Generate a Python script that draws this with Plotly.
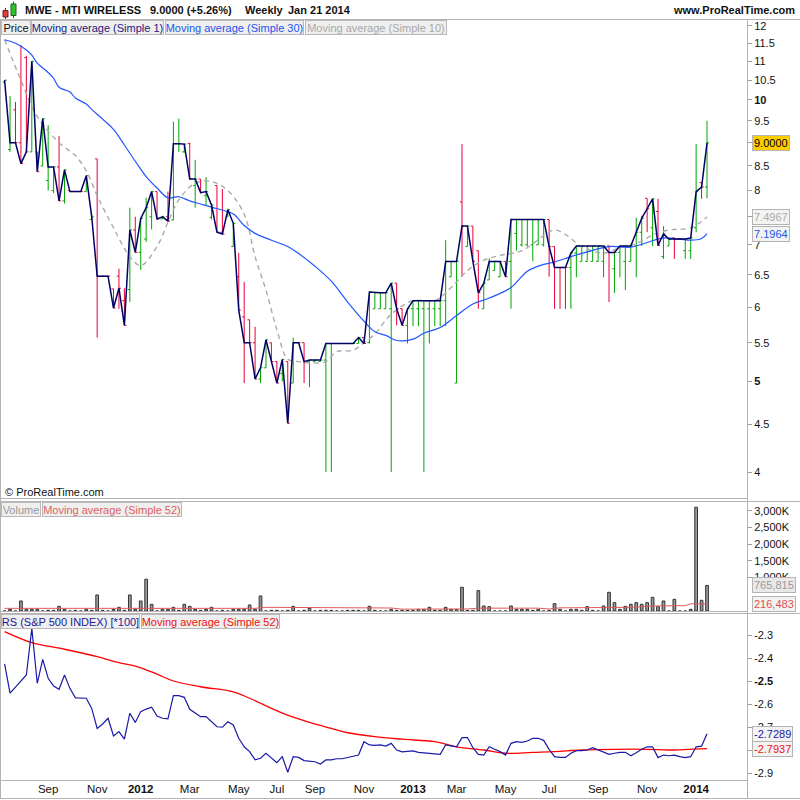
import math
import pandas as pd
import plotly.graph_objects as go

# ---------------- categories (weekly bars) ----------------
weeks_all = pd.date_range("2011-07-11", "2014-01-20", freq="W-MON")
missing_weeks = ["2012-06-04", "2012-07-23", "2012-08-13"]
weeks = [d.strftime("%Y-%m-%d") for d in weeks_all if d.strftime("%Y-%m-%d") not in missing_weeks]
bar = list(range(len(weeks)))

tick_dates = ["2011-09-05", "2011-11-07", "2012-01-02", "2012-03-05", "2012-05-07", "2012-07-02",
              "2012-09-03", "2012-11-05", "2013-01-07", "2013-03-04", "2013-05-06", "2013-07-01",
              "2013-09-02", "2013-11-04", "2014-01-06"]
tick_labels = ["Sep", "Nov", "<b>2012</b>", "Mar", "May", "Jul", "Sep", "Nov", "<b>2013</b>",
               "Mar", "May", "Jul", "Sep", "Nov", "<b>2014</b>"]

# ---------------- price OHLC ----------------
open_ = [10.45, 8.85, 9.76, 9.0, 11.1, 8.8, 8.8, 8.5, 8.2, 8.0,
         8.48, 7.8, 8.0, 7.98, 7.98, 7.98, 7.45, 8.65, 6.48, 6.48,
         6.28, 6.48, 6.1, 6.27, 7.26, 6.87, 7.1, 7.5, 7.98, 7.46,
         7.5, 7.44, 8.98, 8.8, 8.98, 8.1, 8.23, 7.9, 7.49, 8.1,
         7.22, 7.5, 6.97, 6.47, 5.86, 5.82, 5.5, 5.03, 5.17, 5.5,
         5.25, 5.1, 5.25, 4.98, 5.5, 5.5, 5.25, 5.25, 5.25, 5.27,
         5.49, 5.49, 5.49, 5.49, 5.49, 5.49, 5.57, 5.5, 5.98, 5.98,
         5.98, 5.98, 6.37, 5.98, 5.74, 5.98, 5.98, 5.98, 5.98, 5.98,
         5.98, 6.1, 6.47, 4.98, 7.78, 6.97, 7.33, 6.9, 5.98, 6.42,
         6.57, 6.47, 6.72, 6.72, 7.2, 7.0, 7.0, 7.0, 7.0, 7.0,
         7.45, 6.97, 6.62, 6.62, 6.62, 6.86, 6.72, 6.72, 6.72, 6.72,
         6.72, 6.98, 6.6, 6.87, 6.72, 6.72, 6.98, 7.22, 7.85, 7.3,
         7.6, 6.8, 6.98, 7.12, 7.1, 6.9, 6.9, 7.3, 8.16, 8.07]
high = [10.5, 10.1, 9.95, 11.45, 11.15, 11.0, 8.8, 9.55, 9.4, 8.48,
        9.15, 8.42, 8.0, 7.98, 7.98, 8.3, 7.55, 8.65, 6.48, 6.48,
        6.28, 6.6, 6.29, 7.67, 7.5, 7.47, 7.86, 7.98, 7.98, 7.52,
        7.98, 9.48, 9.55, 8.98, 9.0, 8.63, 8.23, 8.27, 7.75, 8.1,
        8.03, 7.65, 7.38, 6.86, 6.39, 5.82, 5.72, 5.17, 5.54, 5.5,
        5.25, 5.28, 5.25, 5.57, 5.5, 5.5, 5.27, 5.27, 5.27, 5.49,
        5.49, 5.49, 5.49, 5.49, 5.49, 5.57, 5.57, 6.23, 6.23, 6.22,
        6.22, 6.37, 6.37, 5.98, 5.98, 6.1, 6.1, 6.1, 6.1, 6.1,
        6.1, 7.08, 6.72, 6.72, 8.97, 7.33, 7.33, 6.9, 6.37, 6.77,
        6.72, 6.72, 6.72, 7.45, 7.45, 7.45, 7.45, 7.45, 7.45, 7.45,
        7.45, 6.97, 6.62, 6.62, 6.87, 6.98, 6.98, 6.98, 6.98, 6.98,
        6.98, 6.99, 6.87, 6.98, 6.98, 6.98, 7.48, 7.52, 7.85, 7.84,
        7.84, 7.33, 7.12, 7.12, 7.1, 7.1, 7.12, 8.97, 8.16, 9.5]
low = [10.45, 8.8, 9.0, 8.55, 8.8, 8.8, 8.38, 8.5, 8.0, 7.95,
       7.8, 7.75, 7.98, 7.98, 7.98, 7.98, 7.45, 5.57, 6.48, 6.48,
       5.99, 5.98, 5.74, 6.08, 6.87, 6.58, 7.05, 7.27, 7.46, 7.46,
       7.42, 7.44, 8.8, 8.78, 8.23, 7.67, 7.96, 7.72, 7.45, 7.22,
       7.19, 7.5, 6.97, 5.96, 4.98, 5.5, 5.03, 4.98, 5.17, 5.25,
       4.98, 5.0, 4.51, 4.98, 5.5, 4.98, 4.93, 5.25, 5.25, 4.0,
       4.0, 5.49, 5.49, 5.49, 5.49, 5.49, 5.49, 5.49, 5.98, 5.98,
       5.98, 4.0, 5.74, 5.74, 5.49, 5.73, 5.73, 4.0, 5.49, 5.73,
       5.73, 5.73, 6.47, 4.98, 6.47, 6.97, 6.72, 5.98, 5.98, 6.42,
       6.57, 6.47, 6.47, 5.98, 6.9, 6.97, 6.97, 6.72, 7.0, 6.97,
       6.47, 5.98, 5.98, 5.98, 5.98, 6.46, 6.72, 6.72, 6.72, 6.72,
       6.46, 6.08, 6.22, 6.46, 6.26, 6.72, 6.46, 6.98, 7.22, 6.98,
       6.98, 6.76, 6.98, 6.76, 7.1, 6.76, 6.76, 7.22, 7.84, 7.85]
close = [10.5, 9.0, 9.0, 8.55, 8.8, 11.0, 8.38, 9.55, 8.48, 8.48,
         7.8, 8.42, 7.98, 7.98, 7.98, 8.3, 7.5, 6.48, 6.48, 6.48,
         5.99, 6.29, 5.74, 7.26, 6.87, 7.47, 7.67, 7.98, 7.46, 7.5,
         7.42, 8.98, 8.98, 8.97, 8.23, 8.23, 7.96, 7.98, 7.72, 7.22,
         7.19, 7.63, 7.38, 5.96, 5.5, 5.5, 5.03, 5.17, 5.54, 5.25,
         4.98, 5.28, 4.51, 5.5, 5.5, 5.25, 5.27, 5.27, 5.27, 5.49,
         5.49, 5.49, 5.49, 5.49, 5.49, 5.57, 5.49, 6.23, 6.22, 6.22,
         6.22, 6.37, 5.98, 5.74, 5.98, 6.1, 6.1, 6.1, 6.1, 6.1,
         6.1, 6.72, 6.72, 6.72, 7.33, 7.33, 6.72, 6.22, 6.37, 6.72,
         6.72, 6.72, 6.47, 7.45, 7.45, 7.45, 7.45, 7.45, 7.45, 7.45,
         6.97, 6.62, 6.62, 6.62, 6.86, 6.98, 6.98, 6.98, 6.98, 6.98,
         6.98, 6.87, 6.87, 6.98, 6.98, 6.98, 7.22, 7.47, 7.65, 7.84,
         6.99, 7.19, 7.1, 7.1, 7.1, 7.1, 7.12, 7.98, 8.07, 9.0]

# moving averages (bar index, value)
ma30_bar = [0, 2, 4, 5, 6, 8, 9, 10, 12, 13, 15, 16, 18, 20, 22, 24, 26, 28, 30, 32, 34, 36, 38, 42,
            44, 46, 49, 52, 54, 57, 60, 63, 66, 68, 70, 72, 75, 77, 80, 83, 86, 89, 93, 96, 99, 101,
            104, 107, 111, 115, 118, 121, 124, 126, 128, 129]
ma30_val = [11.6, 11.5, 11.31, 11.17, 10.95, 10.7, 10.55, 10.32, 10.2, 10.05, 9.9, 9.77, 9.54, 9.3,
            8.95, 8.6, 8.28, 8.05, 7.86, 7.88, 7.8, 7.74, 7.68, 7.55, 7.34, 7.2, 7.08, 6.97, 6.85,
            6.64, 6.4, 6.08, 5.8, 5.65, 5.6, 5.53, 5.55, 5.63, 5.71, 5.88, 6.05, 6.14, 6.3, 6.56,
            6.67, 6.71, 6.8, 6.88, 6.97, 6.96, 7.04, 7.12, 7.1, 7.08, 7.11, 7.1964]
ma10_bar = [0, 3, 6, 10, 13, 15, 17, 20, 23, 25, 28, 30, 32, 35, 38, 41, 44, 46, 48, 50, 52, 54,
            57, 59, 61, 64, 66, 68, 71, 75, 79, 82, 85, 88, 91, 95, 99, 101, 103, 106, 110, 113,
            116, 119, 122, 126, 129]
ma10_val = [11.6, 10.5, 9.6, 9.0, 8.72, 8.4, 7.9, 7.3, 6.8, 6.65, 6.97, 7.4, 7.82, 8.15, 8.18, 8.0,
            7.55, 6.8, 6.26, 5.68, 5.28, 5.25, 5.23, 5.25, 5.38, 5.4, 5.5, 5.62, 5.9, 6.1, 6.1, 6.3,
            6.57, 6.74, 6.82, 6.9, 7.16, 7.26, 7.18, 6.97, 6.86, 6.95, 7.02, 7.17, 7.26, 7.3, 7.4967]

# ---------------- volume (thousands of shares) ----------------
volume_k = [0, 50, 0, 300, 50, 50, 50, 0, 20, 20,
            140, 50, 0, 20, 0, 50, 20, 480, 20, 0,
            50, 110, 20, 480, 50, 300, 950, 200, 0, 50,
            50, 110, 20, 200, 140, 50, 20, 50, 110, 0,
            20, 0, 50, 50, 50, 180, 50, 450, 0, 20,
            20, 0, 20, 140, 0, 20, 80, 0, 20, 20,
            20, 0, 0, 20, 20, 20, 0, 140, 20, 0,
            0, 50, 20, 20, 20, 20, 50, 50, 110, 20,
            20, 110, 50, 50, 710, 20, 20, 610, 150, 130,
            0, 0, 0, 150, 50, 50, 50, 20, 50, 0,
            20, 220, 50, 0, 50, 50, 20, 130, 20, 0,
            150, 560, 250, 50, 140, 200, 250, 200, 250, 410,
            130, 300, 0, 350, 0, 0, 50, 3105, 320, 765.815]
vol_ma_bar = [0, 20, 46, 48, 60, 62, 66, 68, 71, 73, 85, 87, 98, 100, 102, 115, 119, 125, 126, 129]
vol_ma_k = [80, 80, 80, 110, 110, 90, 90, 110, 90, 55, 60, 85, 85, 60, 95, 110, 150, 160, 215, 216.483]

# ---------------- relative strength vs S&P 500 (*100) ----------------
rs = [-2.426, -2.553, -2.527, -2.500, -2.474, -2.271, -2.510, -2.406, -2.488, -2.522,
      -2.536, -2.474, -2.532, -2.573, -2.574, -2.575, -2.619, -2.706, -2.687, -2.662,
      -2.739, -2.720, -2.753, -2.640, -2.680, -2.633, -2.622, -2.614, -2.652, -2.662,
      -2.665, -2.564, -2.564, -2.571, -2.623, -2.640, -2.655, -2.655, -2.677, -2.699,
      -2.701, -2.677, -2.691, -2.749, -2.786, -2.807, -2.843, -2.836, -2.814, -2.836,
      -2.855, -2.829, -2.897, -2.829, -2.832, -2.846, -2.848, -2.851, -2.861, -2.843,
      -2.843, -2.838, -2.838, -2.832, -2.826, -2.822, -2.764, -2.778, -2.780, -2.778,
      -2.783, -2.771, -2.800, -2.808, -2.806, -2.804, -2.810, -2.813, -2.815, -2.817,
      -2.819, -2.778, -2.782, -2.786, -2.746, -2.746, -2.790, -2.819, -2.822, -2.786,
      -2.797, -2.807, -2.822, -2.771, -2.764, -2.767, -2.761, -2.749, -2.749, -2.758,
      -2.797, -2.829, -2.832, -2.832, -2.814, -2.803, -2.803, -2.800, -2.790, -2.800,
      -2.807, -2.819, -2.814, -2.810, -2.810, -2.825, -2.812, -2.797, -2.786, -2.786,
      -2.833, -2.822, -2.825, -2.822, -2.829, -2.833, -2.829, -2.786, -2.783, -2.7289]
rs_ma_bar = [0, 5, 11, 17, 21, 24, 28, 31, 36, 42, 45, 51, 56, 60, 63, 68, 73, 79, 83, 88, 92, 97,
             101, 106, 112, 118, 122, 129]
rs_ma_val = [-2.285, -2.333, -2.362, -2.394, -2.42, -2.435, -2.47, -2.5, -2.525, -2.547, -2.575,
             -2.64, -2.68, -2.706, -2.725, -2.742, -2.753, -2.764, -2.786, -2.8, -2.814, -2.81,
             -2.807, -2.8, -2.797, -2.797, -2.8, -2.7937]

# ---------------- styling ----------------
FONT = "Liberation Sans, Arial, sans-serif"
BORDER = "#b4b4b4"
GREEN = "#00a600"
RED = "#e8003a"
NAVY = "#000066"
BLUE = "#2255ff"
GREY = "#aaaaaa"


def X(p):
    return (p - 1) / 746.0


def Y(p):
    return (780 - p) / 761.0


tickvals_x = [weeks.index(d) for d in tick_dates]

fig = go.Figure()

fig.add_trace(go.Ohlc(x=bar, open=open_, high=high, low=low, close=close,
                      increasing=dict(line=dict(color=GREEN, width=1)),
                      decreasing=dict(line=dict(color=RED, width=1)),
                      tickwidth=0.38, xaxis="x", yaxis="y", hoverinfo="skip",
                      text=weeks))
fig.add_trace(go.Scatter(x=ma10_bar, y=ma10_val, mode="lines", yaxis="y",
                         line=dict(color=GREY, width=1.4, dash="5px,4px", shape="spline"),
                         hoverinfo="skip"))
fig.add_trace(go.Scatter(x=ma30_bar, y=ma30_val, mode="lines", yaxis="y",
                         line=dict(color=BLUE, width=1.2, shape="spline"), hoverinfo="skip"))
fig.add_trace(go.Scatter(x=bar, y=close, mode="lines", yaxis="y",
                         line=dict(color=NAVY, width=1.5), hoverinfo="skip"))

fig.add_trace(go.Bar(x=bar, y=[v * 1000 for v in volume_k], yaxis="y2", width=0.5,
                     marker=dict(color="#9a9a9a", line=dict(color="#333333", width=1)),
                     hoverinfo="skip"))
fig.add_trace(go.Scatter(x=vol_ma_bar, y=[v * 1000 for v in vol_ma_k], mode="lines", yaxis="y2",
                         line=dict(color="#e05a5a", width=1), hoverinfo="skip"))

fig.add_trace(go.Scatter(x=rs_ma_bar, y=rs_ma_val, mode="lines", yaxis="y3",
                         line=dict(color="#ff0000", width=1.3, shape="spline"), hoverinfo="skip"))
fig.add_trace(go.Scatter(x=bar, y=rs, mode="lines", yaxis="y3",
                         line=dict(color="#1a1aa6", width=1.2), hoverinfo="skip"))

# tick labels fully covered by the value boxes in the original are left blank
price_ticks = [4, 4.5, 5, 5.5, 6, 6.5, 7, 7.5, 8, 8.5, 9, 9.5, 10, 10.5, 11, 11.5, 12]
price_text = ["4", "4.5", "<b>5</b>", "5.5", "6", "6.5", "7", "", "8", "8.5", "", "9.5",
              "<b>10</b>", "10.5", "11", "11.5", "12"]
vol_ticks = [1000000, 1500000, 2000000, 2500000, 3000000]
vol_text = ["1,000K", "1,500K", "2,000K", "2,500K", "3,000K"]
rs_ticks = [-2.9, -2.8, -2.7, -2.6, -2.5, -2.4, -2.3]
rs_text = ["-2.9", "", "-2.7", "-2.6", "<b>-2.5</b>", "-2.4", "-2.3"]

axis_common = dict(showgrid=False, zeroline=False, showline=False, ticks="outside", ticklen=4,
                   tickcolor="#999999", side="right", anchor="x",
                   tickfont=dict(family=FONT, size=11, color="#111111"))

fig.update_layout(
    width=800, height=800,
    margin=dict(l=1, r=53, t=19, b=20),
    paper_bgcolor="white", plot_bgcolor="white",
    showlegend=False,
    font=dict(family=FONT, size=11, color="#111111"),
    xaxis=dict(domain=[0, 1], anchor="y3", range=[-0.66, 136.34], tickvals=tickvals_x,
               ticktext=tick_labels, ticks="", showgrid=False, zeroline=False, showline=False,
               rangeslider=dict(visible=False),
               tickfont=dict(family=FONT, size=11.5, color="#111111")),
    yaxis=dict(domain=[Y(499), 1], type="log",
               range=[math.log10(3.743), math.log10(12.207)],
               tickvals=price_ticks, ticktext=price_text, **axis_common),
    yaxis2=dict(domain=[Y(611.5), Y(502)], range=[-15000, 3263000],
                tickvals=vol_ticks, ticktext=vol_text, **axis_common),
    yaxis3=dict(domain=[0, Y(614)], range=[-2.9304, -2.2087],
                tickvals=rs_ticks, ticktext=rs_text, **axis_common),
)

# ---------------- frames ----------------
shapes = []


def hline(py, x0, x1):
    shapes.append(dict(type="line", xref="paper", yref="paper", x0=X(x0), x1=X(x1),
                       y0=Y(py), y1=Y(py), line=dict(color=BORDER, width=1), layer="above"))


def vline(px, y0, y1):
    shapes.append(dict(type="line", xref="paper", yref="paper", x0=X(px), x1=X(px),
                       y0=Y(y0), y1=Y(y1), line=dict(color=BORDER, width=1), layer="above"))


hline(19.5, 0, 800)
hline(498.5, 0, 747.5)
hline(501.5, 0, 800)
hline(611.5, 0, 747.5)
hline(613.5, 0, 800)
hline(780.5, 0, 747.5)
hline(798.5, 0, 800)
vline(0.5, 19.5, 798.5)
vline(747.5, 19.5, 798.5)

# header candle icon
shapes += [
    dict(type="line", xref="paper", yref="paper", x0=X(5.5), x1=X(5.5), y0=Y(8), y1=Y(19),
         line=dict(color="#553333", width=1)),
    dict(type="rect", xref="paper", yref="paper", x0=X(3), x1=X(8), y0=Y(10.5), y1=Y(17),
         fillcolor="#e83a3a", line=dict(color="#662222", width=1)),
    dict(type="line", xref="paper", yref="paper", x0=X(13.5), x1=X(13.5), y0=Y(1.5), y1=Y(18),
         line=dict(color="#225522", width=1)),
    dict(type="rect", xref="paper", yref="paper", x0=X(11), x1=X(16), y0=Y(4), y1=Y(15.5),
         fillcolor="#2ec42e", line=dict(color="#1f5f1f", width=1)),
]
fig.update_layout(shapes=shapes)

# ---------------- texts ----------------
ann = []


def text(t, px, py, size=12, color="#111111", anchor="left", bold=False):
    ann.append(dict(text=("<b>%s</b>" % t) if bold else t, xref="paper", yref="paper",
                    x=X(px), y=Y(py), xanchor=anchor, yanchor="middle", showarrow=False,
                    font=dict(family=FONT, size=size, color=color)))


def cell(t, px, py_top, w, color):
    ann.append(dict(text=t, xref="paper", yref="paper", x=X(px), y=Y(py_top), xanchor="left",
                    yanchor="top", showarrow=False, width=w, height=13, align="center",
                    bgcolor="#efefef", bordercolor="#b9b9b9", borderwidth=1, borderpad=0,
                    font=dict(family=FONT, size=11, color=color)))


def value_box(t, yref, yval, color, bg="#f3f3f3"):
    ann.append(dict(text=t, xref="paper", yref=yref, x=X(752), y=yval, xanchor="left",
                    yanchor="middle", showarrow=False, bgcolor=bg, bordercolor="#b4b4b4",
                    borderwidth=1, borderpad=1,
                    font=dict(family=FONT, size=11, color=color)))


text("MWE - MTI WIRELESS", 23, 10, size=11, bold=True)
text("9.0000 (+5.26%)", 148, 10, size=11, bold=True)
text("Weekly", 243, 10, size=11, bold=True)
text("Jan 21 2014", 286, 10, size=11, bold=True)
text("www.ProRealTime.com", 797, 10, size=11, bold=True, anchor="right")
text("© ProRealTime.com", 3, 492, size=11)

cell("Price", 1, 20, 28, "#111111")
cell("Moving average (Simple 1)", 31, 20, 131, "#1a1a80")
cell("Moving average (Simple 30)", 165, 20, 137, "#2255ee")
cell("Moving average (Simple 10)", 305, 20, 140, "#a8a8a8")

cell("Volume", 1, 502, 38, "#999999")
cell("Moving average (Simple 52)", 42, 502, 138, "#e06060")

cell("RS (S&P 500 INDEX) [*100]", 1, 614, 137, "#1a1a99")
cell("Moving average (Simple 52)", 141, 614, 137, "#ee1111")

value_box("9.0000", "y", math.log10(close[-1]), "#000000", bg="#ffcc00")
value_box("7.4967", "y", math.log10(ma10_val[-1]), "#aaaaaa")
value_box("7.1964", "y", math.log10(ma30_val[-1]), "#2255ee")
value_box("765,815", "y2", volume_k[-1] * 1000, "#9a9a9a", bg="#e9e9e9")
value_box("216,483", "y2", vol_ma_k[-1] * 1000, "#e05050")
value_box("-2.7289", "y3", rs[-1], "#1a1aa6")
value_box("-2.7937", "y3", rs_ma_val[-1], "#ee1111")

fig.update_layout(annotations=ann)

fig.write_html("out.html", config={"displayModeBar": False},
               post_script="document.body.style.margin='0';document.body.style.padding='0';"
                           "document.body.style.overflow='hidden';")
